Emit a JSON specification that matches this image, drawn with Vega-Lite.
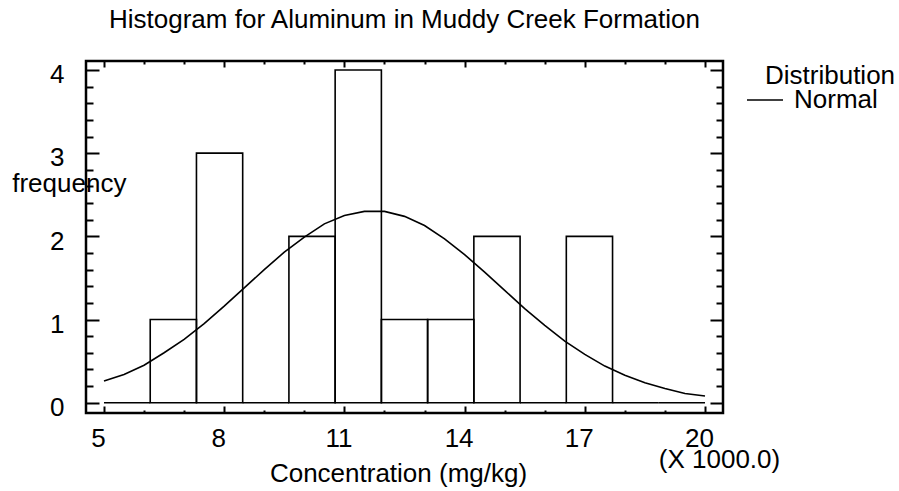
{
  "$schema": "https://vega.github.io/schema/vega-lite/v6.json",
  "width": 637,
  "height": 352,
  "autosize": {"type": "none"},
  "padding": {"left": 86, "top": 61, "right": 176, "bottom": 78},
  "background": "white",
  "title": {
    "text": "Histogram for Aluminum in Muddy Creek Formation",
    "font": "Liberation Sans",
    "fontSize": 26,
    "fontWeight": "normal",
    "color": "black",
    "anchor": "middle",
    "frame": "group",
    "baseline": "alphabetic",
    "offset": 6.4
  },
  "config": {
    "view": {"stroke": "black", "strokeWidth": 2.5},
    "axis": {
      "domain": false,
      "grid": false,
      "labelFont": "Liberation Sans",
      "labelFontSize": 26,
      "labelColor": "black",
      "titleFont": "Liberation Sans",
      "titleFontSize": 26,
      "titleFontWeight": "normal",
      "titleColor": "black",
      "tickColor": "black",
      "tickWidth": 2,
      "labelOverlap": false,
      "labelFlush": false,
      "labelBound": false
    },
    "legend": {
      "titleFont": "Liberation Sans",
      "labelFont": "Liberation Sans"
    }
  },
  "datasets": {
    "bins": [
      {"lo": 5, "hi": 6.1538, "count": 0},
      {"lo": 6.1538, "hi": 7.3077, "count": 1},
      {"lo": 7.3077, "hi": 8.4615, "count": 3},
      {"lo": 8.4615, "hi": 9.6154, "count": 0},
      {"lo": 9.6154, "hi": 10.7692, "count": 2},
      {"lo": 10.7692, "hi": 11.9231, "count": 4},
      {"lo": 11.9231, "hi": 13.0769, "count": 1},
      {"lo": 13.0769, "hi": 14.2308, "count": 1},
      {"lo": 14.2308, "hi": 15.3846, "count": 2},
      {"lo": 15.3846, "hi": 16.5385, "count": 0},
      {"lo": 16.5385, "hi": 17.6923, "count": 2},
      {"lo": 17.6923, "hi": 18.8462, "count": 0},
      {"lo": 18.8462, "hi": 20, "count": 0}
    ],
    "curve": [
      {"x": 5, "f": 0.26}, {"x": 5.5, "f": 0.34}, {"x": 6, "f": 0.45},
      {"x": 6.5, "f": 0.6}, {"x": 7, "f": 0.76}, {"x": 7.5, "f": 0.95},
      {"x": 8, "f": 1.16}, {"x": 8.5, "f": 1.38}, {"x": 9, "f": 1.6},
      {"x": 9.5, "f": 1.81}, {"x": 10, "f": 1.99}, {"x": 10.5, "f": 2.15},
      {"x": 11, "f": 2.25}, {"x": 11.5, "f": 2.3}, {"x": 12, "f": 2.3},
      {"x": 12.5, "f": 2.24}, {"x": 13, "f": 2.13}, {"x": 13.5, "f": 1.97},
      {"x": 14, "f": 1.78}, {"x": 14.5, "f": 1.57}, {"x": 15, "f": 1.35},
      {"x": 15.5, "f": 1.13}, {"x": 16, "f": 0.93}, {"x": 16.5, "f": 0.74},
      {"x": 17, "f": 0.58}, {"x": 17.5, "f": 0.44}, {"x": 18, "f": 0.33},
      {"x": 18.5, "f": 0.24}, {"x": 19, "f": 0.17}, {"x": 19.5, "f": 0.11},
      {"x": 20, "f": 0.08}
    ]
  },
  "layer": [
    {
      "data": {"name": "bins"},
      "mark": {"type": "rect", "fill": "white", "fillOpacity": 0, "stroke": "black", "strokeWidth": 1.6},
      "encoding": {
        "x": {
          "field": "lo", "type": "quantitative",
          "scale": {"domain": [4.551, 20.449], "nice": false, "zero": false},
          "axis": {
            "orient": "bottom",
            "values": [5,6,7,8,9,10,11,12,13,14,15,16,17,18,19,20],
            "tickSize": {"expr": "(datum.value - 5) % 3 === 0 ? -7 : -3"},
            "labelExpr": "(datum.value - 5) % 3 === 0 ? '' + datum.value : ''",
            "labelBaseline": "alphabetic",
            "labelPadding": 40.7,
            "labelOffset": -6,
            "title": "Concentration (mg/kg)",
            "titleX": 312,
            "titleY": 68.7,
            "titleAlign": "center",
            "titleAnchor": null,
            "titleBaseline": "alphabetic",
            "titleAngle": 0
          }
        },
        "x2": {"field": "hi"},
        "y": {
          "field": "count", "type": "quantitative",
          "scale": {"domain": [-0.124, 4.108], "nice": false, "zero": false},
          "axis": {
            "orient": "left",
            "values": [0,0.2,0.4,0.6,0.8,1,1.2,1.4,1.6,1.8,2,2.2,2.4,2.6,2.8,3,3.2,3.4,3.6,3.8,4],
            "tickSize": {"expr": "datum.value % 1 === 0 ? -13 : -7"},
            "labelExpr": "datum.value % 1 === 0 ? '' + datum.value : ''",
            "labelBaseline": "alphabetic",
            "labelAlign": "right",
            "labelPadding": 35,
            "labelOffset": 12.8,
            "title": "frequency",
            "titleX": -74.3,
            "titleY": 130.5,
            "titleAlign": "left",
            "titleAnchor": null,
            "titleBaseline": "alphabetic",
            "titleAngle": 0
          }
        },
        "y2": {"datum": 0}
      }
    },
    {
      "data": {"name": "curve"},
      "mark": {"type": "line", "strokeWidth": 1.6, "interpolate": "linear"},
      "encoding": {
        "x": {
          "field": "x", "type": "quantitative",
          "scale": {"domain": [4.551, 20.449], "nice": false, "zero": false},
          "axis": {
            "orient": "top",
            "values": [5,6,7,8,9,10,11,12,13,14,15,16,17,18,19,20],
            "tickSize": {"expr": "(datum.value - 5) % 3 === 0 ? -6 : -3"},
            "labels": false,
            "title": "(X 1000.0)",
            "titleX": 633,
            "titleY": 406.3,
            "titleAlign": "center",
            "titleAnchor": null,
            "titleBaseline": "alphabetic",
            "titleAngle": 0
          }
        },
        "y": {
          "field": "f", "type": "quantitative",
          "scale": {"domain": [-0.124, 4.108], "nice": false, "zero": false},
          "axis": {
            "orient": "right",
            "values": [0,0.2,0.4,0.6,0.8,1,1.2,1.4,1.6,1.8,2,2.2,2.4,2.6,2.8,3,3.2,3.4,3.6,3.8,4],
            "tickSize": {"expr": "datum.value % 1 === 0 ? -13 : -7"},
            "labels": false,
            "title": null
          }
        },
        "stroke": {
          "datum": "Normal",
          "type": "nominal",
          "scale": {"range": ["black"]},
          "legend": {
            "orient": "none",
            "legendX": 679,
            "legendY": 2,
            "title": "Distribution",
            "titleFontSize": 26,
            "titleFontWeight": "normal",
            "titleColor": "black",
            "titlePadding": -8,
            "labelFontSize": 26,
            "labelColor": "black",
            "symbolType": "stroke",
            "symbolSize": 1296,
            "symbolStrokeWidth": 1.6,
            "symbolStrokeColor": "black",
            "symbolOffset": -19,
            "labelOffset": 10,
            "padding": 0
          }
        }
      }
    }
  ],
  "resolve": {"axis": {"x": "independent", "y": "independent"}}
}
